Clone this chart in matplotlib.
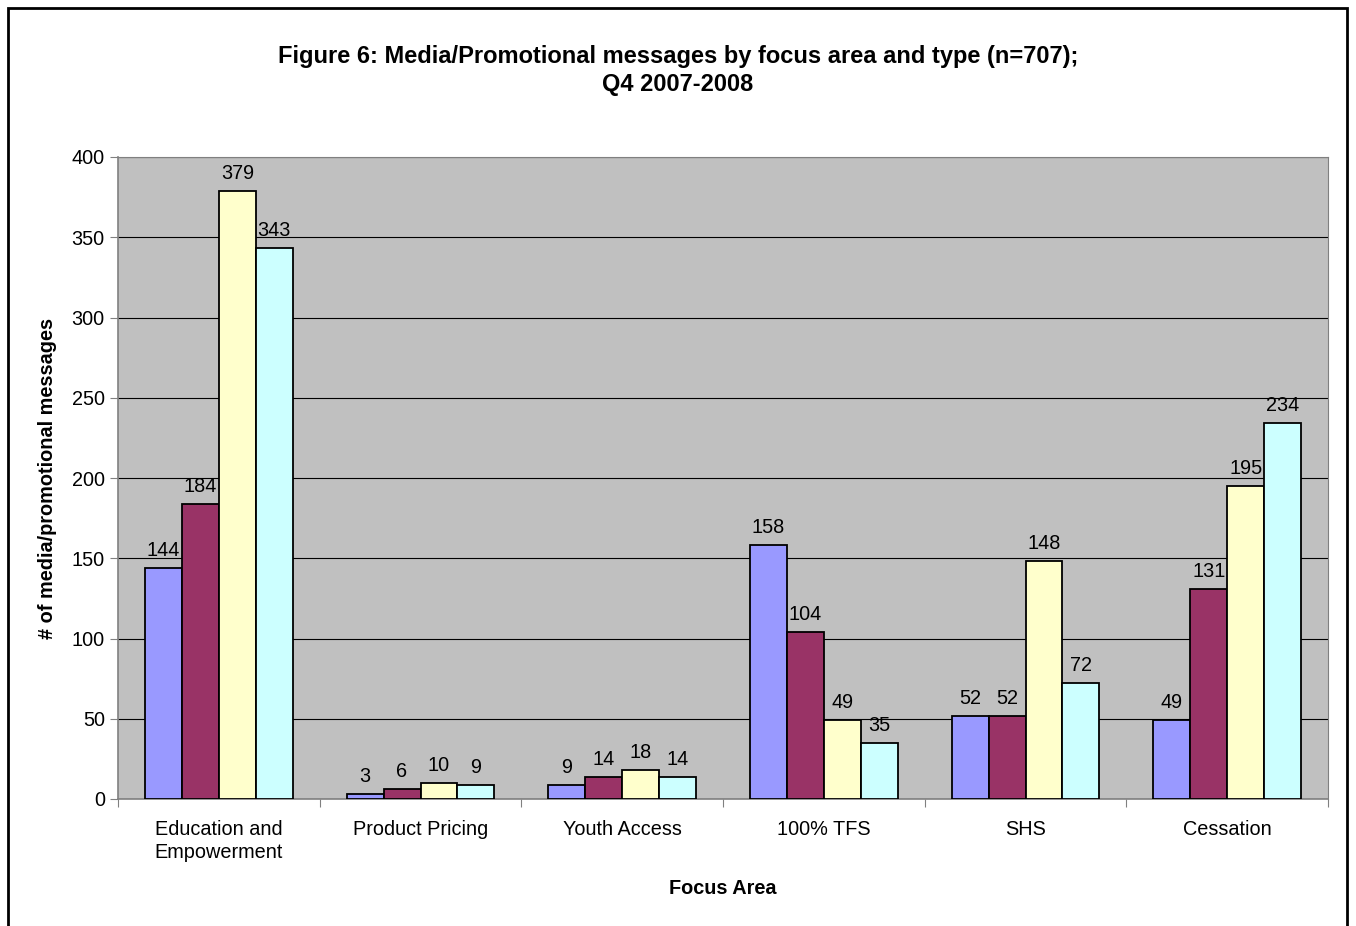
import matplotlib.pyplot as plt
from matplotlib.patches import Rectangle
import numpy as np

plt.rcParams['font.family'] = ['Liberation Sans', 'DejaVu Sans']

# data
categories = ['Education and\nEmpowerment', 'Product Pricing', 'Youth Access',
              '100% TFS', 'SHS', 'Cessation']
series_a = [144, 3, 9, 158, 52, 49]
series_b = [184, 6, 14, 104, 52, 131]
series_c = [379, 10, 18, 49, 148, 195]
series_d = [343, 9, 14, 35, 72, 234]

colors = ['#9999FF', '#993366', '#FFFFCC', '#CCFFFF']

fig = plt.figure(figsize=(13.56, 9.26), dpi=100)
fig.patches.append(Rectangle((8/1356, -0.05), 1339/1356, 1 - 8/926 + 0.05,
                             transform=fig.transFigure, fill=False,
                             edgecolor='black', linewidth=2))

ax = fig.add_axes([118/1356, 1 - 799/926, 1210/1356, 642/926])
ax.set_facecolor('#C0C0C0')

x = np.arange(len(categories))
w = 0.183
all_series = [series_a, series_b, series_c, series_d]
for i, vals in enumerate(all_series):
    pos = x + (i - 1.5) * w
    ax.bar(pos, vals, width=w, color=colors[i], edgecolor='black', linewidth=1.3, zorder=3)
    for p, v in zip(pos, vals):
        ax.text(p, v + 5, str(v), ha='center', va='bottom', fontsize=14.3, zorder=4)

ax.set_xlim(-0.5, len(categories) - 0.5)
ax.set_ylim(0, 400)
ax.set_yticks(range(0, 401, 50))
ax.yaxis.grid(True, color='black', linewidth=0.8, zorder=1)
ax.tick_params(axis='y', labelsize=14.3, length=6, color='#808080')

ax.set_xticks(np.arange(-0.5, len(categories), 1))
ax.set_xticklabels([])
ax.set_xticks(x, minor=True)
ax.set_xticklabels(categories, minor=True, fontsize=14.3, linespacing=1.25)
ax.tick_params(axis='x', which='major', length=6, color='#808080')
ax.tick_params(axis='x', which='minor', length=0, pad=15)

for s in ['top', 'right']:
    ax.spines[s].set_color('#808080')
for s in ['left', 'bottom']:
    ax.spines[s].set_color('#808080')
    ax.spines[s].set_linewidth(1.2)

fig.text(0.5, 1 - 56/926, 'Figure 6: Media/Promotional messages by focus area and type (n=707);',
         ha='center', va='center', fontsize=17, fontweight='bold')
fig.text(0.5, 1 - 85/926, 'Q4 2007-2008', ha='center', va='center',
         fontsize=17, fontweight='bold')
fig.text(723/1356, 1 - 888/926, 'Focus Area', ha='center', va='center',
         fontsize=14.3, fontweight='bold')
fig.text(48/1356, 1 - 478/926, '# of media/promotional messages', ha='center', va='center',
         rotation=90, fontsize=14.3, fontweight='bold')

fig.savefig('out.png', dpi=100)
